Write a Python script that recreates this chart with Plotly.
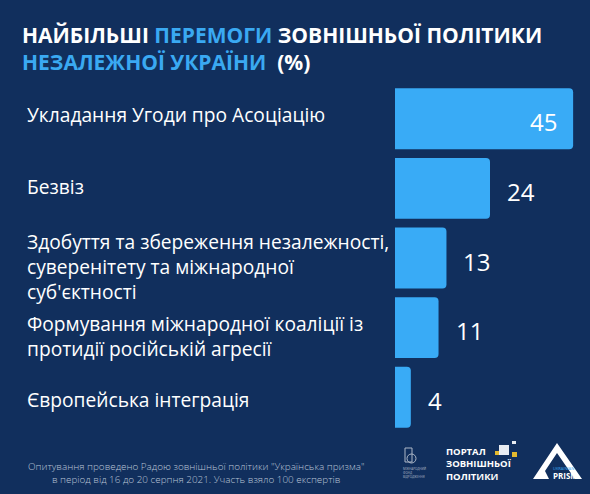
import plotly.graph_objects as go

# ---- data ----
categories = [
    "Укладання Угоди про Асоціацію",
    "Безвіз",
    "Здобуття та збереження незалежності,<br>суверенітету та міжнародної<br>суб'єктності",
    "Формування міжнародної коаліції із<br>протидії російській агресії",
    "Європейська інтеграція",
]
values = [45, 24, 13, 11, 4]

title_line1 = ("НАЙБІЛЬШІ ", "ПЕРЕМОГИ", " ЗОВНІШНЬОЇ ПОЛІТИКИ")
title_line2 = ("НЕЗАЛЕЖНОЇ УКРАЇНИ", "  (%)")
footer_text = ("Опитування проведено Радою зовнішньої політики \"Українська призма\"<br>"
               "в період від 16 до 20 серпня 2021. Участь взяло 100 експертів")

# ---- style ----
BG = "#112f5d"
BAR = "#39abf6"
BLUE_TXT = "#3aa9f2"
W, H = 590, 494
ML, MT, PW, PH = 395, 84, 190, 348
MR, MB = W - ML - PW, H - MT - PH
FONT = "Open Sans"
LABEL_SIZE = 19.2
LABEL_NUDGE = [-4, -2, 8, 8, 2]   # px, label block shift downwards (layout only)


def px(x):
    return (x - ML) / PW


def py(y):
    return 1 - (y - MT) / PH


ypos = list(range(len(categories)))

fig = go.Figure(go.Bar(
    x=values, y=ypos, orientation="h",
    marker=dict(color=BAR, line=dict(width=0), cornerradius=4),
    hoverinfo="skip",
))

annotations = []
# category labels
for i, c in enumerate(categories):
    annotations.append(dict(
        x=px(25), xref="paper", y=i, yref="y", xanchor="left", yanchor="middle",
        text=c, align="left", showarrow=False, yshift=-LABEL_NUDGE[i],
        font=dict(family=FONT, size=LABEL_SIZE, color="#ffffff"),
    ))
# value labels
vmax = max(values)
for i, v in enumerate(values):
    inside = v > vmax * 0.7
    annotations.append(dict(
        x=v, xref="x", y=i, yref="y",
        xanchor="right" if inside else "left", yanchor="middle",
        xshift=-14 if inside else 15, yshift=-3,
        text=str(v), showarrow=False,
        font=dict(family=FONT, size=24, color="#ffffff"),
    ))
# title (two lines in one text block)
annotations.append(dict(
    x=px(20), xref="paper", y=py(48), yref="paper", xanchor="left", yanchor="middle",
    text=(f"<b>{title_line1[0]}<span style='color:{BLUE_TXT}'>{title_line1[1]}</span>"
          f"{title_line1[2]}<br>"
          f"<span style='color:{BLUE_TXT}'>{title_line2[0]}</span>{title_line2[1]}</b>"),
    align="left", showarrow=False, font=dict(family=FONT, size=21, color="#ffffff"),
))
# footer
annotations.append(dict(
    x=px(196), xref="paper", y=py(472), yref="paper", xanchor="center", yanchor="middle",
    text=footer_text, align="center", showarrow=False,
    font=dict(family=FONT, size=9.9, color="#b9c4d6", weight=300),
))
# logos (text parts)
annotations.append(dict(
    x=px(444), xref="paper", y=py(464), yref="paper", xanchor="left", yanchor="middle",
    text="<b>ПОРТАЛ<br>ЗОВНІШНЬОЇ<br>ПОЛІТИКИ</b>", align="left", showarrow=False,
    font=dict(family=FONT, size=9.5, color="#ffffff"),
))
annotations.append(dict(
    x=px(401), xref="paper", y=py(472), yref="paper", xanchor="left", yanchor="middle",
    text="МІЖНАРОДНИЙ<br>ФОНД<br>ВІДРОДЖЕННЯ", align="left", showarrow=False,
    font=dict(family=FONT, size=3, color="#aeb8c8"),
))
annotations.append(dict(
    x=px(565), xref="paper", y=py(475), yref="paper", xanchor="center", yanchor="middle",
    text="<b>PRISM</b>", showarrow=False,
    font=dict(family=FONT, size=8, color="#ffffff"),
))
annotations.append(dict(
    x=px(563), xref="paper", y=py(468), yref="paper", xanchor="center", yanchor="middle",
    text="UKRAINIAN", showarrow=False,
    font=dict(family=FONT, size=4, color="#3aa9f2"),
))

shapes = []


def rect(x0, y0, x1, y1, color, line=None):
    shapes.append(dict(type="rect", xref="paper", yref="paper",
                       x0=px(x0), x1=px(x1), y0=py(y0), y1=py(y1),
                       fillcolor=color if line is None else "rgba(0,0,0,0)",
                       line=dict(width=0 if line is None else 1, color=line or color)))


# portal squares
rect(499, 445, 509, 455, "#e8ecf2")
rect(495, 451, 499, 455, "#e3b92f")
rect(512, 452, 517, 457, "#e3b92f")
rect(512, 441, 516, 444, "#e8ecf2")
# MFV icon
rect(405, 448, 412, 462, None, line="#aeb8c8")
shapes.append(dict(type="circle", xref="paper", yref="paper",
                   x0=px(407), x1=px(416), y0=py(463), y1=py(454),
                   line=dict(width=1, color="#aeb8c8")))
# prism peak
path = (f"M {px(533)},{py(479)} L {px(557)},{py(443)} L {px(582)},{py(479)} "
        f"L {px(575)},{py(479)} L {px(557)},{py(453)} L {px(545)},{py(471)} "
        f"L {px(549)},{py(479)} Z")
shapes.append(dict(type="path", xref="paper", yref="paper", path=path,
                   fillcolor="#ffffff", line=dict(width=0)))

fig.update_layout(
    width=W, height=H,
    margin=dict(l=ML, r=MR, t=MT, b=MB, pad=0),
    paper_bgcolor=BG, plot_bgcolor=BG,
    bargap=0.125,
    showlegend=False,
    xaxis=dict(range=[0, 48], visible=False, fixedrange=True),
    yaxis=dict(range=[len(categories) - 0.5, -0.5], visible=False, fixedrange=True),
    annotations=annotations,
    shapes=shapes,
    font=dict(family=FONT),
)

fig.write_html(
    "out.html",
    config={"displayModeBar": False},
    post_script="document.body.style.margin='0';document.body.style.overflow='hidden';",
)
